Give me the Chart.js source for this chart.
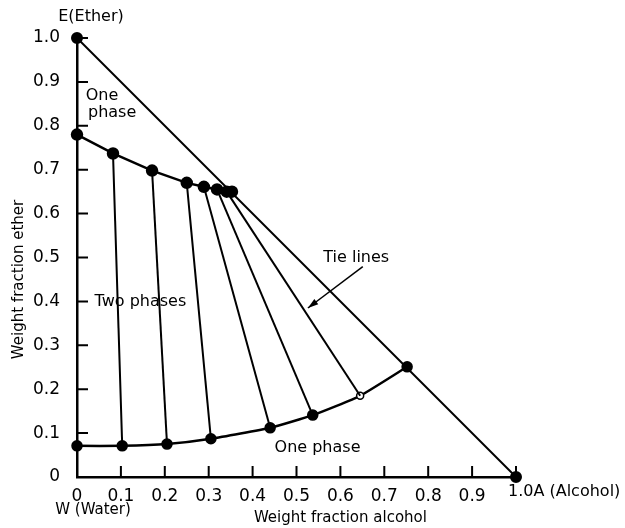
<!DOCTYPE html>
<html>
<head>
<meta charset="utf-8">
<script src="https://cdn.jsdelivr.net/npm/chart.js@4/dist/chart.umd.min.js"></script>
<style>
  body { margin: 0; background: #fff; }
  #wrap { width: 625px; height: 528px; }
</style>
</head>
<body>
<div id="wrap"><canvas id="myChart"></canvas></div>
<script>
// ether-rich layer (upper branch of the solubility curve)
var upperX = [0, 0.082, 0.171, 0.25, 0.289, 0.319, 0.341, 0.353];
var upperY = [0.78, 0.737, 0.698, 0.67, 0.661, 0.655, 0.65, 0.65];
// water-rich layer (lower branch), ends at the plait point on the hypotenuse
var lowerX = [0, 0.103, 0.205, 0.305, 0.44, 0.537, 0.645, 0.752];
var lowerY = [0.071, 0.071, 0.075, 0.087, 0.112, 0.141, 0.185, 0.251];
// tie lines join upper point i with lower point i
var tieUpper = [1, 2, 3, 4, 5, 6];
var tieLower = [1, 2, 3, 4, 5, 6];
// the E-A side of the triangle
var sideX = [0, 1];
var sideY = [1, 0];
var tickVals = [0.1, 0.2, 0.3, 0.4, 0.5, 0.6, 0.7, 0.8, 0.9, 1.0];

function pts(xs, ys) {
  return xs.map(function (x, i) { return { x: x, y: ys[i] }; });
}

var datasets = [];
tieUpper.forEach(function (u, i) {
  var l = tieLower[i];
  datasets.push({
    data: [{ x: upperX[u], y: upperY[u] }, { x: lowerX[l], y: lowerY[l] }],
    showLine: true, borderColor: '#000', borderWidth: 2, pointRadius: 0, clip: false
  });
});
datasets.push({
  data: pts(sideX, sideY), showLine: true, borderColor: '#000', borderWidth: 2,
  pointRadius: 5, pointBackgroundColor: '#000', pointBorderColor: '#000', clip: false
});
datasets.push({
  data: pts(upperX, upperY), showLine: true, borderColor: '#000', borderWidth: 2.5,
  pointRadius: 5, pointBackgroundColor: '#000', pointBorderColor: '#000', clip: false
});
datasets.push({
  data: pts(lowerX, lowerY), showLine: true, borderColor: '#000', borderWidth: 2.5,
  tension: 0.15, clip: false,
  pointRadius: lowerX.map(function (x, i) { return i === 6 ? 3.5 : 5; }),
  pointBackgroundColor: lowerX.map(function (x, i) { return i === 6 ? '#fff' : '#000'; }),
  pointBorderColor: '#000', pointBorderWidth: 1.5
});

var FONT = '"DejaVu Sans", sans-serif';

// inward tick marks, labels and the arrow
var extras = {
  id: 'extras',
  afterDatasetsDraw: function (chart) {
    var ctx = chart.ctx, xs = chart.scales.x, ys = chart.scales.y;
    ctx.save();
    ctx.strokeStyle = '#000';
    ctx.lineWidth = 2;
    var x0 = xs.getPixelForValue(0), y0 = ys.getPixelForValue(0);
    tickVals.forEach(function (v) {
      var px = xs.getPixelForValue(v), py = ys.getPixelForValue(v);
      ctx.beginPath();
      ctx.moveTo(px, y0); ctx.lineTo(px, y0 - 11);
      ctx.moveTo(x0, py); ctx.lineTo(x0 + 11, py);
      ctx.stroke();
    });

    ctx.fillStyle = '#000';
    ctx.font = '16px ' + FONT;
    ctx.textBaseline = 'middle';
    ctx.textAlign = 'left';
    function txt(s, x, y) { ctx.fillText(s, xs.getPixelForValue(x), ys.getPixelForValue(y)); }
    txt('One', 0.02, 0.869);
    txt('phase', 0.025, 0.829);
    txt('Two phases', 0.04, 0.40);
    txt('One phase', 0.45, 0.066);
    txt('Tie lines', 0.561, 0.50);

    // last x label runs on into the corner name
    ctx.fillText('1.0A (Alcohol)', xs.getPixelForValue(1) - 8, y0 + 15);
    ctx.textAlign = 'center';
    ctx.fillText('E(Ether)', x0 + 14, 17);
    ctx.font = '15px ' + FONT;
    ctx.fillText('W (Water)', x0 + 16, 510);
    ctx.fillText('Weight fraction alcohol', xs.getPixelForValue(0.6), 518);
    ctx.save();
    ctx.translate(19, ys.getPixelForValue(0.45));
    ctx.rotate(-Math.PI / 2);
    ctx.fillText('Weight fraction ether', 0, 0);
    ctx.restore();

    // arrow to a tie line
    var ax = xs.getPixelForValue(0.651), ay = ys.getPixelForValue(0.479);
    var bx = xs.getPixelForValue(0.526), by = ys.getPixelForValue(0.385);
    ctx.lineWidth = 1.5;
    ctx.beginPath(); ctx.moveTo(ax, ay); ctx.lineTo(bx, by); ctx.stroke();
    var ang = Math.atan2(by - ay, bx - ax);
    ctx.beginPath();
    ctx.moveTo(bx, by);
    ctx.lineTo(bx - 11 * Math.cos(ang - 0.3), by - 11 * Math.sin(ang - 0.3));
    ctx.lineTo(bx - 11 * Math.cos(ang + 0.3), by - 11 * Math.sin(ang + 0.3));
    ctx.closePath();
    ctx.fill();
    ctx.restore();
  }
};

function fmt(v) { return v === 0 ? '0' : v.toFixed(1); }
function fmtX(v) { return v >= 0.999 ? '' : fmt(v); }

var ctx = document.getElementById('myChart').getContext('2d');
var chart = new Chart(ctx, {
  type: 'scatter',
  data: { datasets: datasets },
  options: {
    responsive: true,
    maintainAspectRatio: false,
    animation: false,
    layout: { padding: { top: 38, right: 109, left: 0, bottom: 0 } },
    plugins: { legend: { display: false }, tooltip: { enabled: false } },
    scales: {
      x: {
        type: 'linear', min: 0, max: 1,
        grid: { display: false },
        border: { color: '#000', width: 2.5 },
        ticks: { stepSize: 0.1, color: '#000', padding: 1, maxRotation: 0,
                 font: { family: FONT, size: 17 }, callback: fmtX },
        afterFit: function (s) { s.height = 51; }
      },
      y: {
        type: 'linear', min: 0, max: 1,
        grid: { display: false },
        border: { color: '#000', width: 2.5 },
        ticks: { stepSize: 0.1, color: '#000', padding: 9,
                 font: { family: FONT, size: 17 }, callback: fmt },
        afterFit: function (s) { s.width = 77; }
      }
    }
  },
  plugins: [extras]
});
</script>
</body>
</html>
